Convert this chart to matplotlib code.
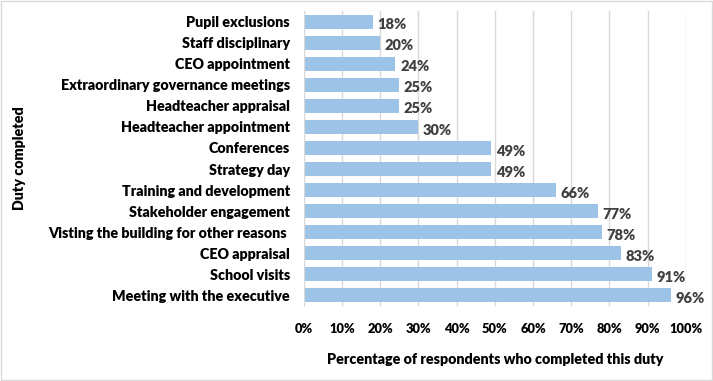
import numpy as np
import matplotlib.pyplot as plt

duties = ['Pupil exclusions', 'Staff disciplinary', 'CEO appointment',
          'Extraordinary governance meetings', 'Headteacher appraisal',
          'Headteacher appointment', 'Conferences', 'Strategy day',
          'Training and development', 'Stakeholder engagement',
          'Visting the building for other reasons ', 'CEO appraisal',
          'School visits', 'Meeting with the executive']
pct = [18, 20, 24, 25, 25, 30, 49, 49, 66, 77, 78, 83, 91, 96]

bar_blue = '#9dc3e6'
text_grey = '#404040'

plt.rcParams['font.family'] = ['Lato', 'DejaVu Sans']

fig = plt.figure(figsize=(7.13, 3.81), dpi=100)
ax = fig.add_axes([0.426, 0.197, 0.536, 0.774])

y = np.arange(len(duties))
ax.barh(y, pct, height=0.66, color=bar_blue, zorder=2)
for yi, v in zip(y, pct):
    ax.text(v + 1.2, yi + 0.15, '%d%%' % v, va='center', ha='left',
            fontsize=10.5, fontweight='heavy', color=text_grey)

ax.set_ylim(len(duties) - 0.5, -0.5)
ax.set_yticks(y)
ax.set_yticklabels(duties, fontsize=10.3, fontweight='heavy', color='black')
ax.set_xlim(0, 100)
ax.set_xticks(np.arange(0, 101, 10))
ax.set_xticklabels(['%d%%' % t for t in range(0, 101, 10)],
                   fontsize=9.3, fontweight='heavy', color='black')
ax.tick_params(axis='both', length=0)
ax.tick_params(axis='y', pad=10)
ax.tick_params(axis='x', pad=12)
ax.grid(axis='x', color='#d9d9d9', linewidth=1, zorder=0)
for s in ['top', 'right', 'bottom']:
    ax.spines[s].set_visible(False)
ax.spines['left'].set_color('#d9d9d9')

ax.set_xlabel('Percentage of respondents who completed this duty',
              fontsize=10.3, fontweight='heavy', labelpad=13)
fig.text(0.028, 0.584, 'Duty completed', rotation=90, ha='center', va='center',
         fontsize=10.3, fontweight='heavy')

fig.patches.append(plt.Rectangle((0.001, 0.002), 0.997, 0.995, transform=fig.transFigure,
                                 fill=False, edgecolor='#d9d9d9', linewidth=1))

plt.savefig('out.png', dpi=100)
